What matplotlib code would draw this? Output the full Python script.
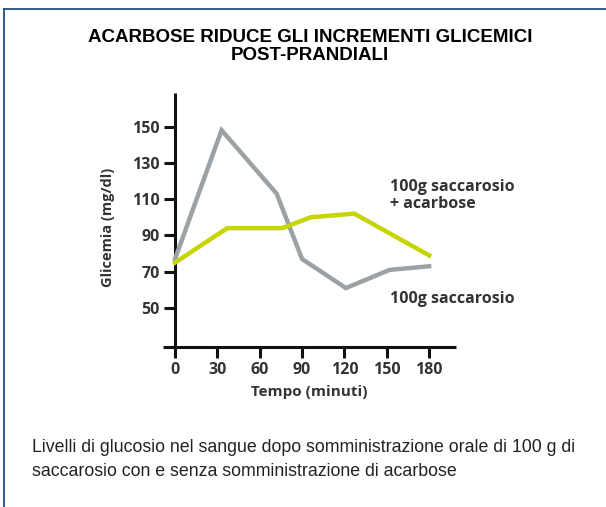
# -*- coding: utf-8 -*-

import matplotlib
matplotlib.use("Agg")
import matplotlib.pyplot as plt
from matplotlib.lines import Line2D

# data -----------------------------------------------------------------------

minutes_ticks = [0, 30, 60, 90, 120, 150, 180]
glyc_ticks = [50, 70, 90, 110, 130, 150]

# 100g saccarosio
sacc_t = [0, 33, 72, 90, 121, 152, 180]
sacc_y = [77, 148, 113, 77, 61, 71, 73]

# 100g saccarosio + acarbose
acar_t = [0, 37, 76, 96, 127, 180]
acar_y = [75, 94, 94, 100, 102, 79]

title = ["ACARBOSE RIDUCE GLI INCREMENTI GLICEMICI", "POST-PRANDIALI"]
caption = [
    "Livelli di glucosio nel sangue dopo somministrazione orale di 100 g di",
    "saccarosio con e senza somministrazione di acarbose",
]

narrow = ["Liberation Sans", "DejaVu Sans"]
label_font = ["Open Sans", "DejaVu Sans"]
dark = "#333333"
gray = "#9ba1a5"
green = "#c6d400"
frame = "#1f4f7d"

W, H = 606, 507
fig = plt.figure(figsize=(W / 100, H / 100), dpi=100)
fig.patch.set_facecolor("white")

# frame lines (top and left) -------------------------------------------------
fig.add_artist(Line2D([4 / W, 1], [1 - 9 / H, 1 - 9 / H], color=frame, lw=1.3,
                      transform=fig.transFigure))
fig.add_artist(Line2D([4 / W, 4 / W], [0, 1 - 9 / H], color=frame, lw=1.3,
                      transform=fig.transFigure))

# title / caption ------------------------------------------------------------
for i, line in enumerate(title):
    fig.text(310 / W, 1 - (37 + 18 * i) / H, line, ha="center", va="center",
             family=narrow, weight="bold", fontsize=13.5)
for i, line in enumerate(caption):
    fig.text(32 / W, 1 - (447 + 24 * i) / H, line, ha="left", va="center",
             family=narrow, fontsize=12.8, color="#222222")

# plot -----------------------------------------------------------------------
ax = fig.add_axes([162.7 / W, (H - 347) / H, 293.3 / W, 254 / H])
ax.plot(sacc_t, sacc_y, color=gray, lw=3.2, solid_joinstyle="miter",
        zorder=3)
ax.plot(acar_t, acar_y, color=green, lw=3.2, solid_joinstyle="miter",
        zorder=3)

ax.set_xlim(-8.7, 199)
ax.set_ylim(28.5, 168.5)
ax.spines["left"].set_position(("data", 0))
ax.spines["right"].set_visible(False)
ax.spines["top"].set_visible(False)
for s in ("left", "bottom"):
    ax.spines[s].set_linewidth(2.2)
    ax.spines[s].set_color("#111111")
    ax.spines[s].set_capstyle("butt")

ax.set_xticks(minutes_ticks)
ax.set_yticks(glyc_ticks)
ax.tick_params(axis="both", direction="out", width=2.2, length=8,
               color="#111111", labelcolor=dark, labelsize=11.5)
ax.tick_params(axis="x", pad=3)
ax.tick_params(axis="y", pad=3)
for lab in ax.get_xticklabels() + ax.get_yticklabels():
    lab.set_family(label_font)
    lab.set_weight("bold")

ax.set_xlabel("Tempo (minuti)", family=label_font, weight="bold",
              fontsize=11, color=dark, labelpad=5)
fig.text(108 / W, 1 - 227 / H, "Glicemia (mg/dl)", rotation=90,
         ha="center", va="center", family=label_font, weight="bold",
         fontsize=10.5, color=dark)

ax.text(152, 112, "100g saccarosio\n+ acarbose", ha="left", va="center",
        family=label_font, weight="bold", fontsize=11.5, color=dark,
        linespacing=1.15)
ax.text(152, 55, "100g saccarosio", ha="left", va="center",
        family=label_font, weight="bold", fontsize=11.5, color=dark)

plt.savefig("out.png", dpi=100, facecolor="white")
